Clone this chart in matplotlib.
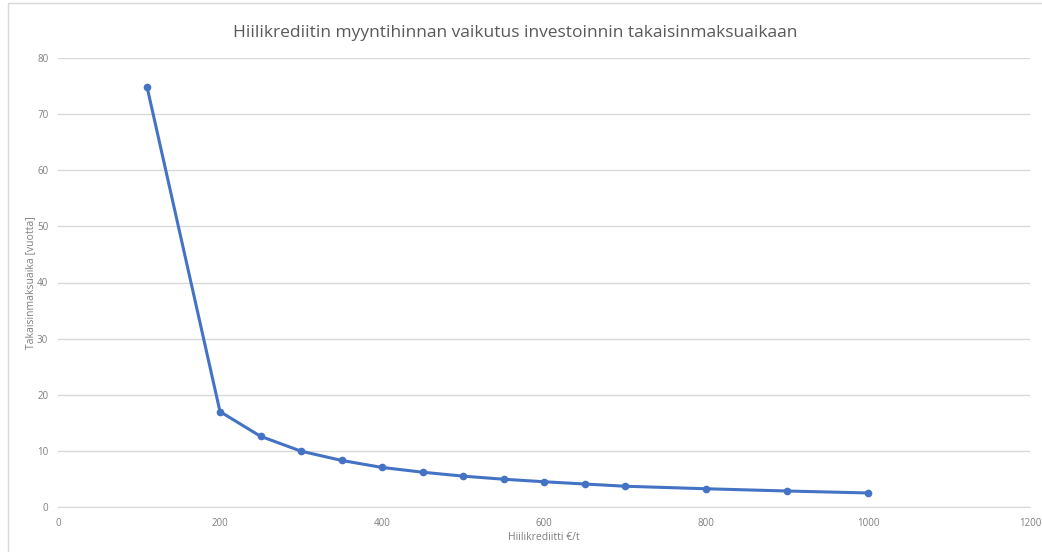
import matplotlib.pyplot as plt
from matplotlib.patches import Rectangle

# carbon credit price (EUR/t) vs payback time (years)
price = [110, 200, 250, 300, 350, 400, 450, 500, 550, 600, 650, 700, 800, 900, 1000]
payback = [74.8, 17.0, 12.6, 9.95, 8.3, 7.05, 6.2, 5.5, 4.95, 4.5, 4.1, 3.7, 3.25, 2.85, 2.5]

plt.rcParams['font.family'] = ['Open Sans', 'DejaVu Sans']

fig = plt.figure(figsize=(10.42, 5.52), dpi=100)
W, H = 1042, 552
ax = fig.add_axes([58 / W, 1 - 507 / H, (1030 - 58) / W, (507 - 58) / H])

# chart frame
fig.patches.append(Rectangle((8 / W, -0.05), 1.1, 1 - 3 / H + 0.05, transform=fig.transFigure,
                             fill=False, edgecolor='#d9d9d9', linewidth=1))

ax.plot(price, payback, '-o', color='#4472C4', linewidth=2.2, markersize=4.5, zorder=3)

ax.set_xlim(0, 1200)
ax.set_ylim(0, 80)
ax.set_xticks(range(0, 1201, 200))
ax.set_yticks(range(0, 81, 10))
ax.grid(axis='y', color='#d9d9d9', linewidth=1)
for s in ['top', 'right', 'left']:
    ax.spines[s].set_visible(False)
ax.spines['bottom'].set_color('#d9d9d9')
ax.tick_params(length=0, labelsize=7, colors='#7f7f7f', pad=8)
ax.tick_params(axis='y', pad=7)

ax.set_xlabel('Hiilikrediitti €/t', fontsize=7.5, color='#7f7f7f', labelpad=2)
ax.set_ylabel('Takaisinmaksuaika [vuotta]', fontsize=7.5, color='#7f7f7f', labelpad=1)
fig.text(515 / W, 1 - 33 / H, 'Hiilikrediitin myyntihinnan vaikutus investoinnin takaisinmaksuaikaan',
         ha='center', va='center', fontsize=12.5, color='#595959')

fig.savefig('out.png', dpi=100)
